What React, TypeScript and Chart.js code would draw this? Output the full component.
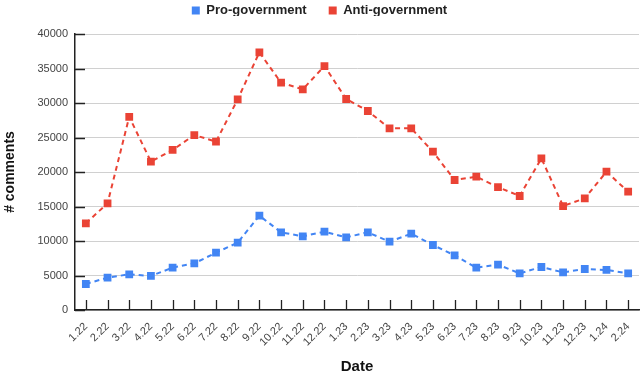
import React, { useEffect, useRef } from "react";
import { Chart, registerables } from "chart.js";

Chart.register(...registerables);

const categories = ["1.22","2.22","3.22","4.22","5.22","6.22","7.22","8.22","9.22","10.22","11.22","12.22","1.23","2.23","3.23","4.23","5.23","6.23","7.23","8.23","9.23","10.23","11.23","12.23","1.24","2.24"];
const proGovernment = [3770,4690,5170,4930,6140,6760,8310,9760,13670,11260,10680,11350,10530,11260,9900,11060,9420,7920,6140,6570,5310,6230,5460,5940,5800,5310];
const antiGovernment = [12560,15460,28000,21500,23200,25360,24400,30530,37350,32940,31980,35360,30580,28840,26330,26330,22940,18840,19320,17800,16520,21980,15070,16180,20040,17150];

const BLUE = "#4285F4";
const RED = "#EA4335";
const FONT = "'Liberation Sans', Arial, sans-serif";

const inwardTicks = {
  id: "inwardTicks",
  afterLayout(chart: any) {
    if (chart.legend) {
      chart.legend.top -= 18;
      chart.legend.bottom -= 18;
    }
  },
  beforeDatasetsDraw(chart: any) {
    const { ctx, chartArea, scales } = chart;
    ctx.save();
    ctx.strokeStyle = "#222";
    ctx.lineWidth = 1.3;
    ctx.beginPath();
    const x = scales.x;
    for (let i = 0; i < x.ticks.length; i++) {
      const px = Math.round(x.getPixelForTick(i)) + 0.5;
      ctx.moveTo(px, chartArea.bottom - 10);
      ctx.lineTo(px, chartArea.bottom);
    }
    const y = scales.y;
    for (let i = 0; i < y.ticks.length; i++) {
      const py = Math.round(y.getPixelForTick(i)) + 0.5;
      ctx.moveTo(chartArea.left, py);
      ctx.lineTo(chartArea.left + 10, py);
    }
    ctx.stroke();
    ctx.restore();
  },
};

export default function App() {
  const ref = useRef<HTMLCanvasElement>(null);
  useEffect(() => {
    const canvas = ref.current!;
    const chart = new Chart(canvas, {
      type: "line",
      data: {
        labels: categories,
        datasets: [
          {
            label: "Pro-government",
            data: proGovernment,
            borderColor: BLUE,
            backgroundColor: BLUE,
            borderWidth: 2,
            borderDash: [5, 4],
            pointStyle: "rect",
            pointRadius: 5.5,
            pointBorderWidth: 0,
            tension: 0,
          },
          {
            label: "Anti-government",
            data: antiGovernment,
            borderColor: RED,
            backgroundColor: RED,
            borderWidth: 2,
            borderDash: [5, 4],
            pointStyle: "rect",
            pointRadius: 5.5,
            pointBorderWidth: 0,
            tension: 0,
          },
        ],
      },
      options: {
        responsive: false,
        animation: false,
        layout: { autoPadding: false, padding: { top: 0, right: 1, bottom: 0, left: 0 } },
        plugins: {
          tooltip: { enabled: false },
          legend: {
            position: "top",
            maxHeight: 34,
            labels: {
              font: { family: FONT, size: 13, weight: "bold" },
              color: "#222",
              boxWidth: 8,
              boxHeight: 8,
              padding: 22,
              generateLabels(c: any) {
                const items = Chart.defaults.plugins.legend.labels.generateLabels(c);
                return items.map((it: any) => ({ ...it, lineDash: [], lineWidth: 0, strokeStyle: it.fillStyle }));
              },
            },
          },
        },
        scales: {
          x: {
            offset: true,
            grid: { display: false, drawTicks: false },
            border: { display: true, color: "#222", width: 1.5 },
            ticks: {
              font: { family: FONT, size: 11 },
              color: "#444",
              maxRotation: 45,
              minRotation: 45,
              padding: 10,
              autoSkip: false,
            },
            title: {
              display: true,
              text: "Date",
              font: { family: FONT, size: 15, weight: "bold" },
              color: "#111",
              padding: { top: 0, bottom: -1 },
            },
            afterFit(scale: any) {
              scale.height = 65;
              scale.paddingLeft = 0;
              scale.paddingRight = 0;
            },
          },
          y: {
            min: 0,
            max: 40000,
            grid: { color: "#d0d0d0", lineWidth: 1, drawTicks: false },
            border: { display: true, color: "#222", width: 1.5 },
            ticks: {
              stepSize: 5000,
              font: { family: FONT, size: 11 },
              color: "#444",
              padding: 7,
              callback: (v: any) => String(v),
            },
            title: {
              display: true,
              text: "# comments",
              font: { family: FONT, size: 14, weight: "bold" },
              color: "#111",
              padding: { top: 2, bottom: 0 },
            },
            afterFit(scale: any) {
              scale.width = 75;
            },
          },
        },
      },
      plugins: [inwardTicks],
    });
    return () => chart.destroy();
  }, []);
  return (
    <div style={{ position: "fixed", left: 0, top: 0, width: 640, height: 375, background: "#fff" }}>
      <canvas ref={ref} width={640} height={375} style={{ display: "block" }} />
    </div>
  );
}
